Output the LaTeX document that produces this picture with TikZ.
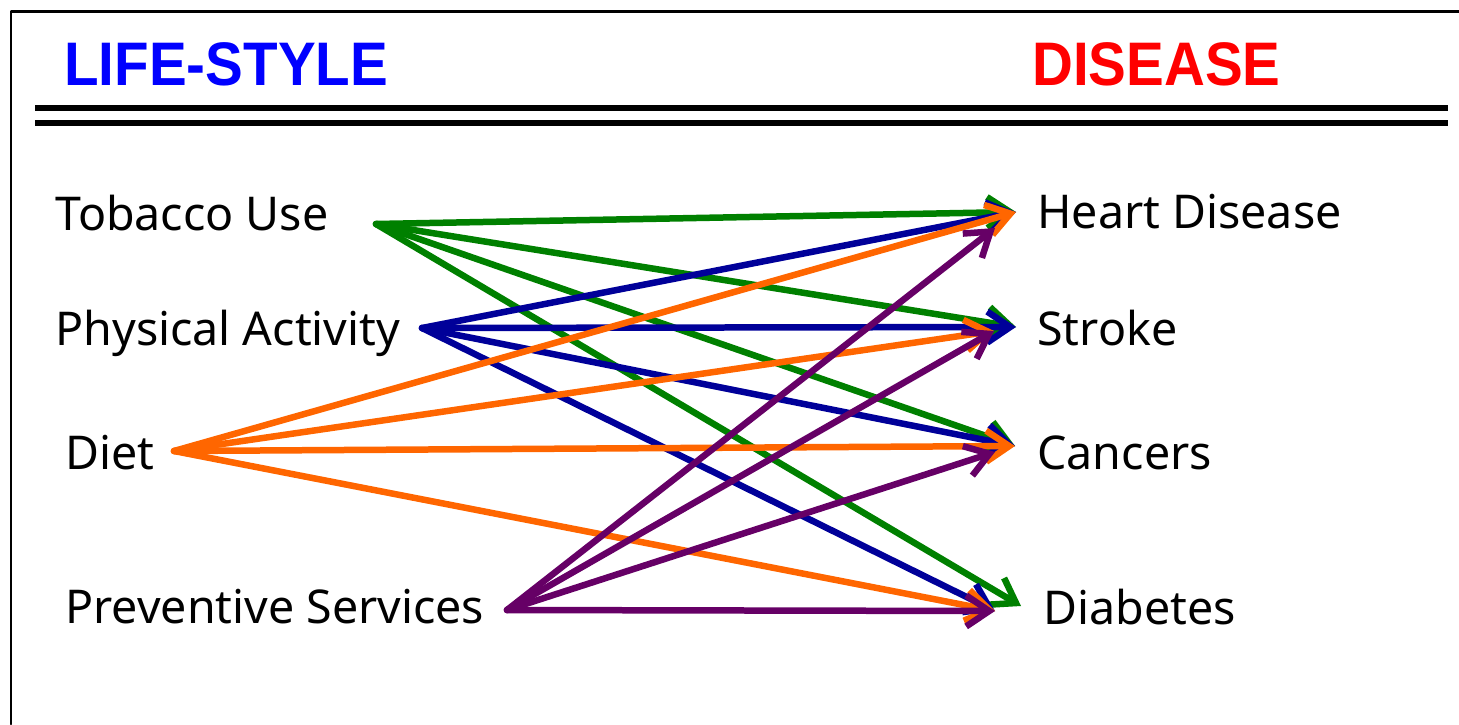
\documentclass[tikz,border=0pt]{standalone}
\usepackage{fontspec}
\setmainfont{Noto Sans}
\newfontfamily\headfont{Liberation Sans}
\usetikzlibrary{arrows.meta}

\definecolor{linkgreen}{HTML}{008000}
\definecolor{linkblue}{HTML}{000099}
\definecolor{linkorange}{HTML}{FF6600}
\definecolor{linkpurple}{HTML}{660066}

\begin{document}
\begin{tikzpicture}[x=0.02cm,y=-0.02cm,line cap=round,line join=round,
  >={Straight Barb[length=0.46cm,width=0.62cm]},
  every node/.style={inner sep=0pt,anchor=base west},
  item/.style={font=\fontsize{26.5}{30}\selectfont},
  head/.style={font=\fontsize{35}{40}\selectfont\headfont\bfseries,
    xscale=0.92,transform shape},
  link/.style={line width=0.13cm,->}]
  \useasboundingbox (0,0) rectangle (1459,724);

  % frame and title rules
  \draw[line width=0.06cm] (11,724) -- (11,11) -- (1459,11);
  \draw[line width=0.12cm,line cap=butt] (35,108) -- (1448,108);
  \draw[line width=0.12cm,line cap=butt] (35,123) -- (1448,123);

  \node[head,text=blue] (lifestyle) at (64,85) {LIFE-STYLE};
  \node[head,text=red] (disease) at (1032,85) {DISEASE};

  % left column
  \node[item] (tobacco) at (55,230) {Tobacco Use};
  \node[item] (activity) at (55,345) {Physical Activity};
  \node[item] (diet) at (65,469) {Diet};
  \node[item] (prevent) at (65,623) {Preventive Services};

  % right column
  \node[item] (heart) at (1037,228) {Heart Disease};
  \node[item] (stroke) at (1037,345) {Stroke};
  \node[item] (cancer) at (1037,469) {Cancers};
  \node[item] (diabetes) at (1043,624) {Diabetes};

  % where the links leave and arrive
  \coordinate (tobacco-o) at (376,224);
  \coordinate (activity-o) at (422,328);
  \coordinate (diet-o) at (174,451);
  \coordinate (prevent-o) at (507,610);
  \coordinate (heart-in) at (1016,212);
  \coordinate (heart-in2) at (995,228);
  \coordinate (stroke-in) at (1016,327);
  \coordinate (stroke-in2) at (994,331);
  \coordinate (cancer-in) at (1015,446);
  \coordinate (cancer-in2) at (995,452);
  \coordinate (diabetes-in) at (1021,606);
  \coordinate (diabetes-in2) at (995,611);

  \foreach \d in {heart,stroke,cancer,diabetes}
    \draw[link,linkgreen] (tobacco-o) -- (\d-in);
  \foreach \d in {heart-in,stroke-in,cancer-in,diabetes-in2}
    \draw[link,linkblue] (activity-o) -- (\d);
  \foreach \d in {heart-in,stroke-in2,cancer-in,diabetes-in2}
    \draw[link,linkorange] (diet-o) -- (\d);
  \foreach \d in {heart,stroke,cancer,diabetes}
    \draw[link,linkpurple] (prevent-o) -- (\d-in2);
\end{tikzpicture}
\end{document}
